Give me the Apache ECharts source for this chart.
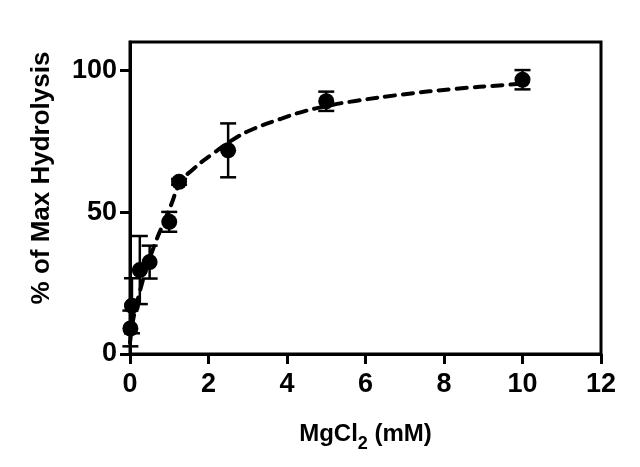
<!DOCTYPE html>
<html>
<head>
<meta charset="utf-8">
<script src="https://cdn.jsdelivr.net/npm/echarts@6/dist/echarts.min.js"></script>
<style>html,body{margin:0;padding:0;background:#fff;}#c{width:640px;height:467px;}</style>
</head>
<body>
<div id="c"></div>
<script>
var concentrations = [0.01, 0.05, 0.25, 0.5, 1, 1.25, 2.5, 5, 10];
var meanHydrolysis = [9, 17, 29.6, 32.4, 46.6, 60.7, 71.8, 89.1, 96.7];
var errorValues = [6.3, 9.7, 12, 5.8, 3.5, 1, 9.5, 3.4, 3.4];
var fitX = [0, 0.1, 0.25, 0.43, 0.64, 0.81, 1.03, 1.29, 1.63, 2.06, 2.66, 3.17, 3.86, 4.37, 5, 5.74, 6.94, 8.31, 9.51, 10];
var fitY = [4, 13.5, 22, 30.7, 39, 44.8, 52, 60.5, 65.4, 70.1, 75.9, 79.5, 83, 85.3, 87.4, 89.2, 91.5, 93.5, 94.8, 95.3];
var xTicks = [0, 2, 4, 6, 8, 10, 12];
var yTicks = [0, 50, 100];

var FONT = '"Liberation Sans", Arial, sans-serif';
var chart = echarts.init(document.getElementById('c'), null, {renderer: 'canvas'});

var points = concentrations.map(function (x, i) { return [x, meanHydrolysis[i]]; });
var errData = concentrations.map(function (x, i) { return [x, meanHydrolysis[i] - errorValues[i], meanHydrolysis[i] + errorValues[i]]; });
var fitData = fitX.map(function (x, i) { return [x, fitY[i]]; });

chart.setOption({
  animation: false,
  backgroundColor: '#fff',
  grid: {left: 130, right: 39, top: 42, bottom: 113, show: true, borderColor: '#000', borderWidth: 3, backgroundColor: 'transparent'},
  xAxis: {
    type: 'value', min: 0, max: 12, interval: 2,
    axisLine: {show: true, lineStyle: {color: '#000', width: 3}},
    axisTick: {show: true, length: 10, lineStyle: {color: '#000', width: 3}, customValues: xTicks},
    axisLabel: {color: '#000', fontFamily: FONT, fontWeight: 'bold', fontSize: 27, margin: 17, customValues: xTicks},
    splitLine: {show: false},
    name: '{a|MgCl}{s|2}{a| (mM)}',
    nameLocation: 'middle', nameGap: 64,
    nameTextStyle: {
      rich: {
        a: {fontFamily: FONT, fontWeight: 'bold', fontSize: 24, color: '#000', verticalAlign: 'bottom', lineHeight: 28},
        s: {fontFamily: FONT, fontWeight: 'bold', fontSize: 18, color: '#000', verticalAlign: 'bottom', lineHeight: 28, padding: [0, 0, -7, 0]}
      }
    }
  },
  yAxis: {
    type: 'value', min: 0, max: 110,
    axisLine: {show: true, lineStyle: {color: '#000', width: 3}},
    axisTick: {show: true, length: 10, lineStyle: {color: '#000', width: 3}, customValues: yTicks},
    axisLabel: {color: '#000', fontFamily: FONT, fontWeight: 'bold', fontSize: 27, margin: 13, customValues: yTicks},
    splitLine: {show: false},
    name: '% of Max Hydrolysis',
    nameLocation: 'middle', nameGap: 75, nameRotate: 90,
    nameTextStyle: {fontFamily: FONT, fontWeight: 'bold', fontSize: 26, color: '#000', padding: [0, 0, 0, 40]}
  },
  series: [
    {
      type: 'line', data: fitData, smooth: true, showSymbol: false, symbol: 'none',
      lineStyle: {color: '#000', width: 4, type: [10, 8], cap: 'round'}, z: 2
    },
    {
      type: 'custom', data: errData, z: 3,
      renderItem: function (params, api) {
        var x = api.value(0);
        var lo = api.coord([x, api.value(1)]);
        var hi = api.coord([x, api.value(2)]);
        var hw = 8;
        var st = {stroke: '#000', lineWidth: 2.5};
        return {type: 'group', children: [
          {type: 'line', shape: {x1: lo[0], y1: lo[1], x2: hi[0], y2: hi[1]}, style: st},
          {type: 'line', shape: {x1: lo[0] - hw, y1: lo[1], x2: lo[0] + hw, y2: lo[1]}, style: st},
          {type: 'line', shape: {x1: hi[0] - hw, y1: hi[1], x2: hi[0] + hw, y2: hi[1]}, style: st}
        ]};
      }
    },
    {
      type: 'scatter', data: points, symbol: 'circle', symbolSize: 16,
      itemStyle: {color: '#000', opacity: 1}, z: 4
    }
  ]
});
</script>
</body>
</html>
